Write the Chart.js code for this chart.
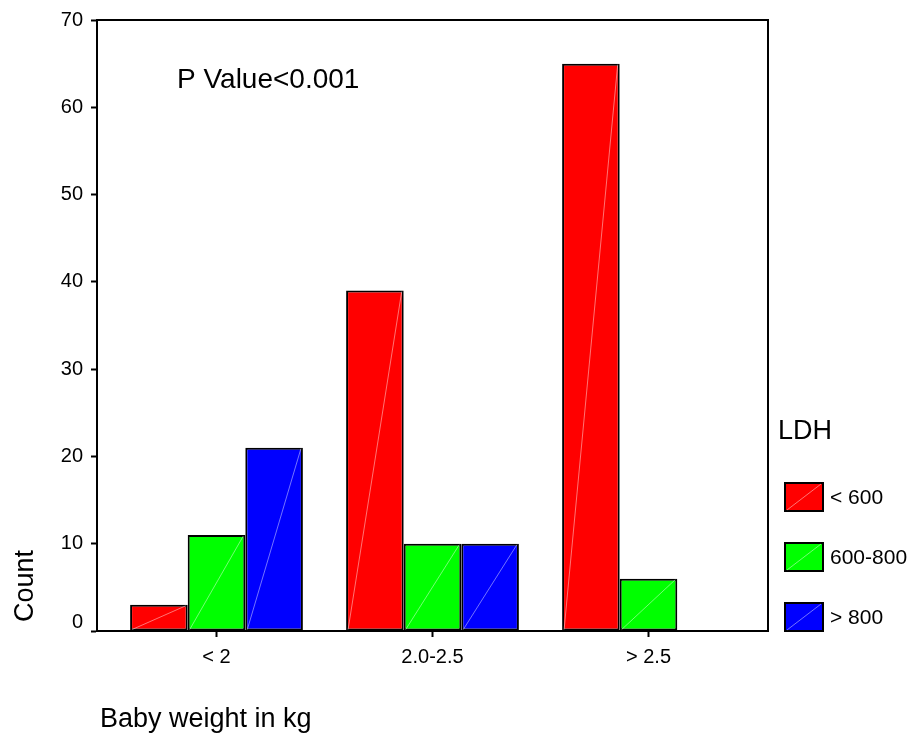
<!DOCTYPE html>
<html>
<head>
<meta charset="utf-8">
<script src="https://cdn.jsdelivr.net/npm/chart.js@4/dist/chart.umd.min.js"></script>
<style>
body { margin: 0; background: #fff; }
</style>
</head>
<body>
<canvas id="grafica" width="913" height="737"></canvas>
<script>
// Datos
const categorias = ['< 2', '2.0-2.5', '> 2.5'];
const ldhMenor600 = [3, 39, 65];
const ldh600a800 = [11, 10, 6];
const ldhMayor800 = [21, 10, 0];
const ticksY = [0, 10, 20, 30, 40, 50, 60, 70];
const nombresSeries = ['< 600', '600-800', '> 800'];
const colores = ['#ff0000', '#00ff00', '#0000ff'];

const fuente = '"Liberation Sans", Arial, sans-serif';
const margenX = 11.5 / 216; // hueco entre el marco y las categorias extremas

// Linea diagonal clara dentro de cada barra
const plugDiagonal = {
    id: 'diagonal',
    afterDatasetsDraw(chart) {
        const ctx = chart.ctx;
        ctx.save();
        ctx.strokeStyle = 'rgba(255,255,255,0.45)';
        ctx.lineWidth = 1;
        chart.data.datasets.forEach((ds, i) => {
            chart.getDatasetMeta(i).data.forEach(el => {
                const p = el.getProps(['x', 'y', 'base', 'width'], true);
                if (Math.abs(p.base - p.y) < 2) return;
                ctx.beginPath();
                ctx.moveTo(p.x - p.width / 2 + 2, p.base - 1);
                ctx.lineTo(p.x + p.width / 2 - 2, p.y + 1);
                ctx.stroke();
            });
        });
        ctx.restore();
    }
};

// Marco, etiquetas del eje Y, titulos y leyenda
const plugTextos = {
    id: 'textos',
    afterDraw(chart) {
        const ctx = chart.ctx;
        const area = chart.chartArea;
        const escalaY = chart.scales.y;
        ctx.save();

        // marco superior y derecho
        ctx.strokeStyle = '#000';
        ctx.lineWidth = 2;
        ctx.beginPath();
        ctx.moveTo(area.left - 1, area.top);
        ctx.lineTo(area.right, area.top);
        ctx.lineTo(area.right, area.bottom);
        ctx.stroke();

        ctx.fillStyle = '#000';

        // etiquetas del eje Y (el 0 va un poco mas arriba)
        ctx.font = '20px ' + fuente;
        ctx.textAlign = 'right';
        ctx.textBaseline = 'middle';
        ticksY.forEach(v => {
            let py = escalaY.getPixelForValue(v);
            if (v === 0) py -= 9;
            ctx.fillText(String(v), area.left - 14, py);
        });

        // titulo del eje Y
        ctx.font = '27px ' + fuente;
        ctx.textAlign = 'left';
        ctx.textBaseline = 'alphabetic';
        ctx.save();
        ctx.translate(area.left - 64, area.bottom - 9);
        ctx.rotate(-Math.PI / 2);
        ctx.fillText('Count', 0, 0);
        ctx.restore();

        // titulo del eje X
        ctx.fillText('Baby weight in kg', area.left + 3, area.bottom + 96);

        // valor p
        ctx.font = '28px ' + fuente;
        ctx.fillText('P Value<0.001', area.left + 80, area.top + 68);

        // leyenda
        ctx.font = '27px ' + fuente;
        ctx.fillText('LDH', area.right + 10, area.bottom - 192);
        ctx.font = '21px ' + fuente;
        ctx.textBaseline = 'middle';
        nombresSeries.forEach((nombre, i) => {
            const bx = area.right + 17;
            const by = area.bottom - 148 + i * 60;
            ctx.fillStyle = colores[i];
            ctx.fillRect(bx, by, 38, 28);
            ctx.strokeStyle = '#000';
            ctx.lineWidth = 2;
            ctx.strokeRect(bx, by, 38, 28);
            ctx.strokeStyle = 'rgba(255,255,255,0.45)';
            ctx.lineWidth = 1;
            ctx.beginPath();
            ctx.moveTo(bx + 2, by + 27);
            ctx.lineTo(bx + 36, by + 1);
            ctx.stroke();
            ctx.fillStyle = '#000';
            ctx.fillText(nombre, bx + 45, by + 15);
        });

        ctx.restore();
    }
};

const datos = [ldhMenor600, ldh600a800, ldhMayor800];

const ctx = document.getElementById('grafica').getContext('2d');
new Chart(ctx, {
    type: 'bar',
    data: {
        labels: categorias,
        datasets: datos.map((valores, i) => ({
            label: nombresSeries[i],
            data: valores,
            backgroundColor: colores[i],
            borderColor: '#000',
            borderWidth: 2,
            borderSkipped: false,
            categoryPercentage: 0.8,
            barPercentage: 1
        }))
    },
    options: {
        responsive: false,
        animation: false,
        layout: {
            padding: { top: 20, right: 145, bottom: 0, left: 0 }
        },
        plugins: {
            legend: { display: false },
            tooltip: { enabled: false }
        },
        scales: {
            x: {
                offset: true,
                grid: {
                    offset: false,
                    drawOnChartArea: false,
                    drawTicks: true,
                    tickLength: 6,
                    tickWidth: 2,
                    color: '#000'
                },
                border: { display: true, color: '#000', width: 2 },
                ticks: {
                    color: '#000',
                    padding: 8,
                    maxRotation: 0,
                    font: { family: fuente, size: 20 }
                },
                afterBuildTicks(scale) {
                    // deja un poco de aire a los lados como en el original
                    scale._startValue = -0.5 - margenX;
                    scale._valueRange = categorias.length + 2 * margenX;
                },
                afterFit(scale) {
                    scale.height = 106;
                }
            },
            y: {
                min: 0,
                max: 70,
                afterBuildTicks(scale) {
                    scale.ticks = ticksY.map(v => ({ value: v }));
                },
                grid: {
                    drawOnChartArea: false,
                    drawTicks: true,
                    tickLength: 6,
                    tickWidth: 2,
                    color: '#000'
                },
                border: { display: true, color: '#000', width: 2 },
                ticks: { display: false },
                afterFit(scale) {
                    scale.width = 97;
                }
            }
        }
    },
    plugins: [plugDiagonal, plugTextos]
});
</script>
</body>
</html>
